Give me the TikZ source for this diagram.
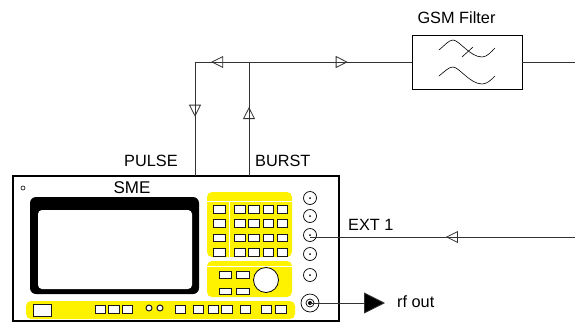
\documentclass[tikz,border=0pt]{standalone}
\usepackage{fontspec}
\setmainfont{Liberation Sans}
\usetikzlibrary{arrows.meta,decorations.markings}

\begin{document}
\begin{tikzpicture}[
  x=1pt,y=-1pt,
  wire/.style={line width=0.8pt,draw=black!80},
  tip at/.style={decoration={markings,mark=at position #1 with {\arrow{Triangle[open,length=12pt,width=12pt,line width=0.8pt]}}},postaction=decorate},
  panel/.style={fill=yellow,rounded corners=5pt},
  gap/.style={draw=white,line width=1pt},
  key/.style={draw=black!90,fill=white,line width=1pt},
  jack/.style={circle,draw,line width=0.7pt,minimum size=13pt,inner sep=0pt},
  caption/.style={font=\fontsize{16.3}{18}\selectfont,inner sep=0pt}
]
  \useasboundingbox (0,0) rectangle (575,322);

  % Signal generator front panel.
  \node[draw,line width=1.2pt,minimum width=326pt,minimum height=145pt,inner sep=0pt] (sme) at (176,248.5) {};
  \node[caption,font=\fontsize{17}{19}\selectfont] (smelabel) at (132,188) {SME};
  \node[circle,draw,line width=0.6pt,minimum size=4pt,inner sep=0pt] (led) at (23,188) {};

  % Screen
  \fill[rounded corners=6pt] (30,197) rectangle (199,294);
  \fill[white,rounded corners=4pt] (38,210) rectangle (192,289);

  % Keypad
  \fill[panel] (207,192) rectangle (292,257);
  \draw[gap] (207,201) -- (292,201);
  \draw[gap] (229,201) -- (229,257);
  \foreach \ya/\yb in {205/213,219/227,234/241,248/256} {
    \draw[key] (213,\ya) rectangle (225,\yb);
    \foreach \xa/\xb in {234/245,248/259,263/273,277/287}
      \draw[key] (\xa,\ya) rectangle (\xb,\yb);
  }

  % Knob panel
  \fill[panel] (207,261) rectangle (292,297);
  \draw[gap] (207,266) -- (292,266);
  \foreach \xa/\xb in {219/231,236/249} {
    \draw[key] (\xa,271) rectangle (\xb,278);
    \draw[key] (\xa,288) rectangle (\xb,294);
  }
  \node[circle,draw,fill=white,line width=0.8pt,minimum size=25pt,inner sep=0pt] (knob) at (266,280) {};

  % Bottom strip
  \fill[panel] (26,301) rectangle (295,319);
  \draw[key] (33,304) rectangle (51,316);
  \foreach \xa/\xb in {95/105,108/119,122/132,175/185,193/203,208/218,221/232,240/250,261/271,275/286}
    \draw[key] (\xa,305) rectangle (\xb,313);
  \foreach \xa in {149,160}
    \draw[key] (\xa,308) circle (3);

  % Sockets
  \foreach \n/\ya in {1/198,2/216,3/235,4/254,5/275} {
    \node[jack] (jack\n) at (310,\ya) {};
    \fill (jack\n.center) circle (1);
  }
  \node[jack,minimum size=18pt] (rfjack) at (310,303) {};
  \node[jack,minimum size=8pt] (rfcore) at (310,303) {};
  \fill (rfcore.center) circle (2);

  % Filter with its two curves
  \node[draw,line width=0.8pt,minimum width=110pt,minimum height=54pt,inner sep=0pt] (filter) at (467,62) {};
  \node[caption] (filterlabel) at (456.5,18) {GSM Filter};
  \draw[line width=0.6pt] (439,50) .. controls (445,45) and (449,40) .. (453,40)
    .. controls (459,40) and (470,57) .. (482,57) .. controls (487,57) and (491,52) .. (495,48);
  \draw[line width=0.6pt] (462,57) -- (473,47);
  \draw[line width=0.6pt] (439,76) .. controls (445,71) and (449,67) .. (453,67)
    .. controls (459,67) and (470,84) .. (482,84) .. controls (487,84) and (491,80) .. (495,76);

  % Wiring
  \coordinate (corner) at (195,62);
  \coordinate (tee) at (249,62);
  \coordinate (pulsein) at (195,176);
  \coordinate (burstout) at (249,176);
  \coordinate (filterout) at (575,62);
  \coordinate (extin) at (575,237);
  \coordinate (extend) at (310,237);
  \coordinate (rfend) at (385,303);

  \draw[wire,tip at=0.70] (tee) -- (corner);
  \draw[wire,tip at=0.607] (tee) -- (filter.west);
  \draw[wire,tip at=0.48] (corner) -- (pulsein);
  \draw[wire,tip at=0.605] (burstout) -- (tee);
  \draw[wire] (filter.east) -- (filterout);
  \draw[wire,tip at=0.487] (extin) -- (extend);
  \draw[wire,-{Triangle[length=21pt,width=21pt,fill=black]}] (rfjack.center) -- (rfend);

  \node[caption,anchor=west] (pulselabel) at (124,161) {PULSE};
  \node[caption,anchor=west] (burstlabel) at (255,161) {BURST};
  \node[caption,anchor=west] (extlabel) at (348,225) {EXT 1};
  \node[caption,anchor=west] (rflabel) at (397,302) {rf out};
\end{tikzpicture}
\end{document}
